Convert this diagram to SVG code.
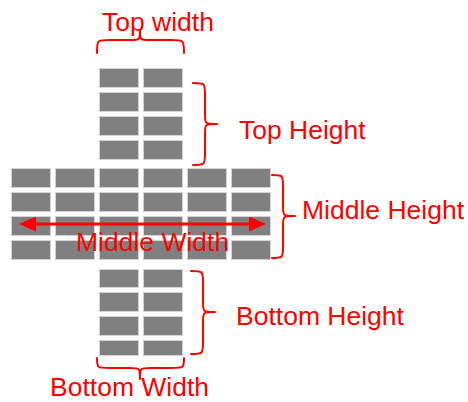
<svg xmlns="http://www.w3.org/2000/svg" width="468" height="402" viewBox="0 0 468 402">
<style>
.cell{fill:#808080;stroke:#d4d4d4;stroke-width:1}
.brace{fill:none;stroke:#ff0000;stroke-width:2;stroke-linecap:round;stroke-linejoin:round}
.lbl{font-family:"Liberation Sans",Arial,sans-serif;font-size:26.5px;fill:#ff0000}
.arrow{fill:none;stroke:#ff0000;stroke-width:3}
</style>
<defs>
<marker id="ah" markerUnits="userSpaceOnUse" markerWidth="17" markerHeight="15" viewBox="0 0 17 15" refX="1" refY="7.5" orient="auto-start-reverse">
<path d="M0,0 L17,7.5 L0,15 z" fill="#ff0000"/>
</marker>
</defs>
<rect width="468" height="402" fill="#ffffff"/>
<g id="top-block">
<rect class="cell" x="99.5" y="68.5" width="39" height="19"/>
<rect class="cell" x="143.5" y="68.5" width="39" height="19"/>
<rect class="cell" x="99.5" y="92.5" width="39" height="19"/>
<rect class="cell" x="143.5" y="92.5" width="39" height="19"/>
<rect class="cell" x="99.5" y="116.5" width="39" height="19"/>
<rect class="cell" x="143.5" y="116.5" width="39" height="19"/>
<rect class="cell" x="99.5" y="140.5" width="39" height="19"/>
<rect class="cell" x="143.5" y="140.5" width="39" height="19"/>
</g>
<g id="middle-block">
<rect class="cell" x="11.5" y="168.5" width="39" height="19"/>
<rect class="cell" x="55.5" y="168.5" width="39" height="19"/>
<rect class="cell" x="99.5" y="168.5" width="39" height="19"/>
<rect class="cell" x="143.5" y="168.5" width="39" height="19"/>
<rect class="cell" x="187.5" y="168.5" width="39" height="19"/>
<rect class="cell" x="231.5" y="168.5" width="39" height="19"/>
<rect class="cell" x="11.5" y="192.5" width="39" height="19"/>
<rect class="cell" x="55.5" y="192.5" width="39" height="19"/>
<rect class="cell" x="99.5" y="192.5" width="39" height="19"/>
<rect class="cell" x="143.5" y="192.5" width="39" height="19"/>
<rect class="cell" x="187.5" y="192.5" width="39" height="19"/>
<rect class="cell" x="231.5" y="192.5" width="39" height="19"/>
<rect class="cell" x="11.5" y="216.5" width="39" height="19"/>
<rect class="cell" x="55.5" y="216.5" width="39" height="19"/>
<rect class="cell" x="99.5" y="216.5" width="39" height="19"/>
<rect class="cell" x="143.5" y="216.5" width="39" height="19"/>
<rect class="cell" x="187.5" y="216.5" width="39" height="19"/>
<rect class="cell" x="231.5" y="216.5" width="39" height="19"/>
<rect class="cell" x="11.5" y="240.5" width="39" height="19"/>
<rect class="cell" x="55.5" y="240.5" width="39" height="19"/>
<rect class="cell" x="99.5" y="240.5" width="39" height="19"/>
<rect class="cell" x="143.5" y="240.5" width="39" height="19"/>
<rect class="cell" x="187.5" y="240.5" width="39" height="19"/>
<rect class="cell" x="231.5" y="240.5" width="39" height="19"/>
</g>
<g id="bottom-block">
<rect class="cell" x="99.5" y="269.5" width="39" height="18"/>
<rect class="cell" x="143.5" y="269.5" width="39" height="18"/>
<rect class="cell" x="99.5" y="292.5" width="39" height="19"/>
<rect class="cell" x="143.5" y="292.5" width="39" height="19"/>
<rect class="cell" x="99.5" y="316.5" width="39" height="19"/>
<rect class="cell" x="143.5" y="316.5" width="39" height="19"/>
<rect class="cell" x="99.5" y="340.5" width="39" height="15"/>
<rect class="cell" x="143.5" y="340.5" width="39" height="15"/>
</g>
<g id="connectors">
<path class="brace" d="M97,53 C97,40 97,40 110,40 L130,40 C140,40 140,40 140,30 C140,40 140,40 150,40 L171,40 C184,40 184,40 184,53"/>
<path class="brace" d="M193,83 C205,83 205,83 205,95 L205,114 C205,124 205,124 217,124 C205,124 205,124 205,134 L205,153 C205,165 205,165 193,165"/>
<path class="brace" d="M272,175 C283,175 283,175 283,187 L283,206 C283,216 283,216 295,216 C283,216 283,216 283,226 L283,246 C283,258 283,258 272,258"/>
<path class="brace" d="M191,271 C203,271 203,271 203,283 L203,302 C203,312 203,312 215,312 C203,312 203,312 203,322 L203,342 C203,354 203,354 191,354"/>
<path class="brace" d="M97,358 C97,368 97,368 110,368 L130,368 C140,368 140,368 140,379 C140,368 140,368 150,368 L171,368 C184,368 184,368 184,358"/>
<path class="arrow" d="M35,224 L250,224" marker-start="url(#ah)" marker-end="url(#ah)"/>
</g>
<g id="labels">
<text class="lbl" x="102" y="31">Top width</text>
<text class="lbl" x="239" y="139">Top Height</text>
<text class="lbl" x="302" y="219">Middle Height</text>
<text class="lbl" x="76" y="251">Middle Width</text>
<text class="lbl" x="236" y="325">Bottom Height</text>
<text class="lbl" x="50" y="396">Bottom Width</text>
</g>
</svg>
